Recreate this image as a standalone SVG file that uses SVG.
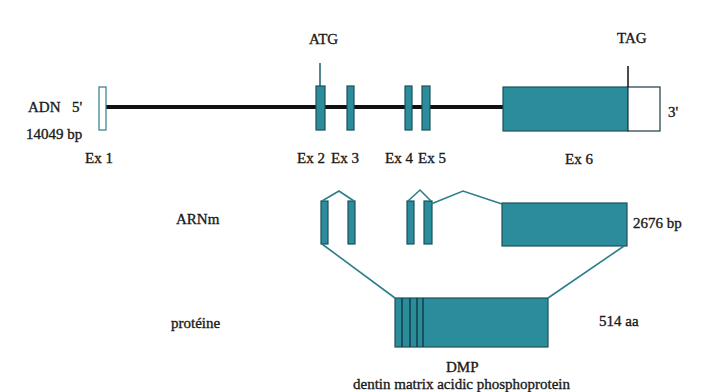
<svg xmlns="http://www.w3.org/2000/svg" width="707" height="392" viewBox="0 0 707 392">
<style>
text{font-family:"Liberation Serif","Times New Roman",serif;font-size:15px;fill:#1a1a1a;stroke:#1a1a1a;stroke-width:0.35}
.ex{fill:#2b8c9b;stroke:#1d4f58;stroke-width:1.2}
.wh{fill:#fff;stroke:#1d3a40;stroke-width:1.2}
.conn{fill:none;stroke:#2b7e8c;stroke-width:1.6}
</style>
<rect width="707" height="392" fill="#fff"/>
<g id="dna">
  <line x1="106" y1="107" x2="503" y2="107" stroke="#111" stroke-width="4"/>
  <text x="28" y="112">ADN</text>
  <text x="72" y="112">5'</text>
  <text x="26" y="139">14049 bp</text>
  <text x="668" y="117">3'</text>
</g>
<g id="ex1"><rect class="wh" x="99" y="87" width="7" height="43" style="stroke:#2b7e8c"/><text x="85" y="163">Ex 1</text></g>
<g id="ex2"><line x1="320" y1="63" x2="320" y2="87" stroke="#1d5f6a" stroke-width="1.5"/><rect class="ex" x="316" y="86" width="9" height="44"/><text x="297" y="163">Ex 2</text><text x="309" y="44">ATG</text></g>
<g id="ex3"><rect class="ex" x="347" y="86" width="7" height="44"/><text x="331" y="163">Ex 3</text></g>
<g id="ex4"><rect class="ex" x="405" y="86" width="7" height="44"/><text x="385" y="163">Ex 4</text></g>
<g id="ex5"><rect class="ex" x="422" y="86" width="8" height="44"/><text x="418" y="163">Ex 5</text></g>
<g id="ex6">
  <rect class="ex" x="503" y="87" width="125" height="44"/>
  <rect class="wh" x="628" y="87" width="32" height="44"/>
  <line x1="628" y1="66" x2="628" y2="87" stroke="#111" stroke-width="1.5"/>
  <text x="617" y="43">TAG</text>
  <text x="565" y="164">Ex 6</text>
</g>
<g id="arnm">
  <text x="176" y="224">ARNm</text>
  <rect class="ex" x="321" y="201" width="7" height="43"/>
  <rect class="ex" x="348" y="201" width="7" height="43"/>
  <rect class="ex" x="407" y="201" width="7" height="43"/>
  <rect class="ex" x="424" y="201" width="8" height="43"/>
  <rect class="ex" x="502" y="203" width="125" height="43"/>
  <text x="633" y="228">2676 bp</text>
</g>
<g id="protein">
  <text x="171" y="328">protéine</text>
  <rect class="ex" x="395" y="298" width="153" height="49"/>
  <line x1="402" y1="298" x2="402" y2="347" stroke="#12343a" stroke-width="1.3"/>
  <line x1="410" y1="298" x2="410" y2="347" stroke="#12343a" stroke-width="1.3"/>
  <line x1="417" y1="298" x2="417" y2="347" stroke="#12343a" stroke-width="1.3"/>
  <line x1="423" y1="298" x2="423" y2="347" stroke="#12343a" stroke-width="1.3"/>
  <text x="599" y="326">514 aa</text>
  <text x="446" y="372">DMP</text>
  <text x="353" y="389">dentin matrix acidic phosphoprotein</text>
</g>
<g id="connectors">
  <polyline class="conn" points="322,201 339,191 354,201"/>
  <polyline class="conn" points="408,201 420,190 431,201"/>
  <polyline class="conn" points="431,204 463,191 502,204"/>
  <line class="conn" x1="322" y1="244" x2="395" y2="298"/>
  <line class="conn" x1="624" y1="246" x2="548" y2="298"/>
</g>
</svg>
